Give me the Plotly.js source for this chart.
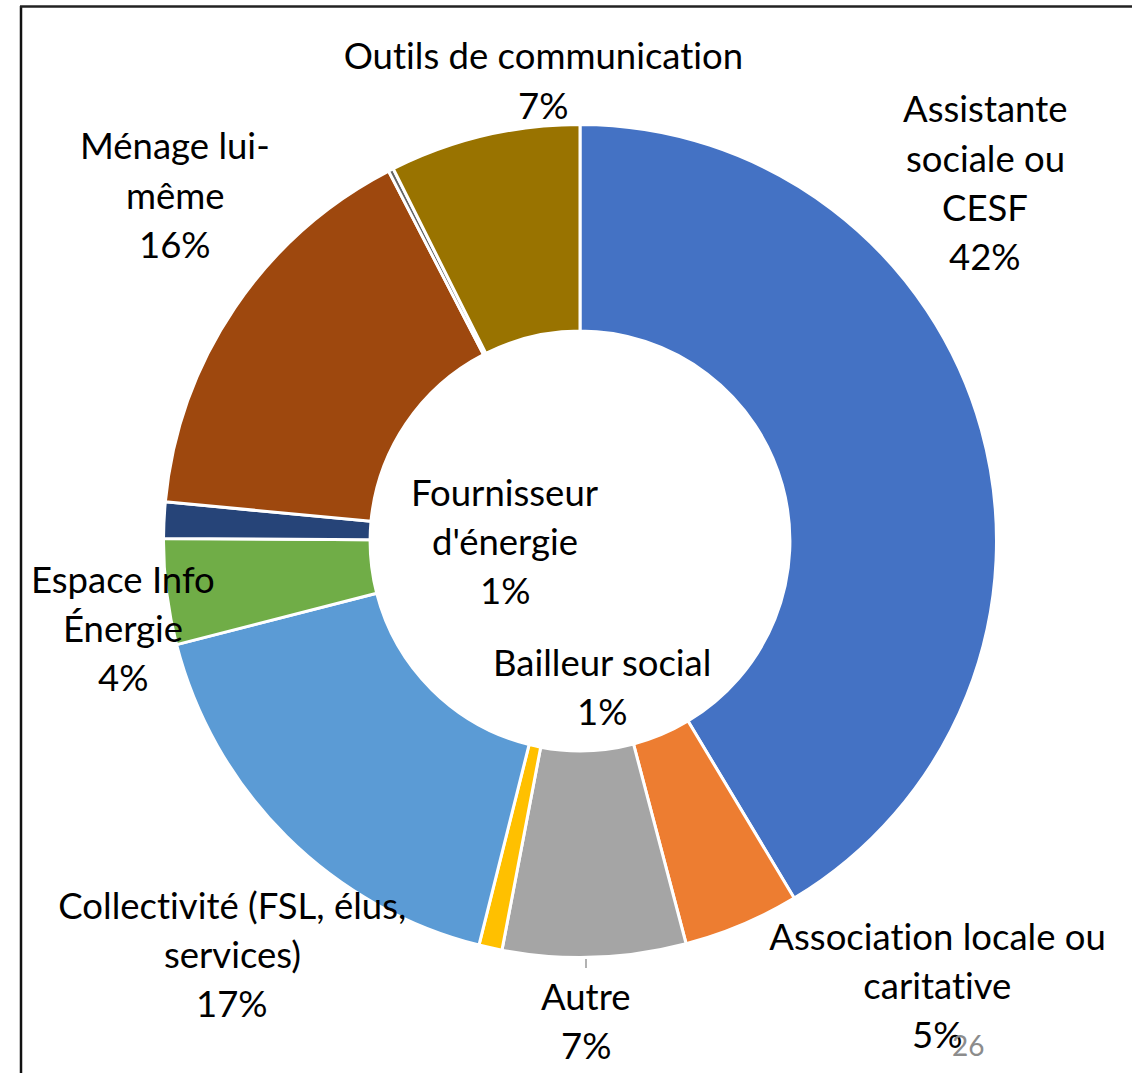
<!DOCTYPE html>
<html>
<head>
<meta charset="utf-8">
<script src="https://cdn.plot.ly/plotly-3.0.1.min.js"></script>
<style>html,body{margin:0;padding:0;background:#fff;}#chart{width:1132px;height:1073px;}
#chart text{font-variant-ligatures:none;font-feature-settings:"liga" 0,"clig" 0;}</style>
</head>
<body>
<div id="chart"></div>
<script>
// ---- Data ----
const categories = [
  "Assistante sociale ou CESF",
  "Association locale ou caritative",
  "Autre",
  "Bailleur social",
  "Collectivité (FSL, élus, services)",
  "Espace Info Énergie",
  "Fournisseur d'énergie",
  "Ménage lui-même",
  "(non renseigné)",
  "Outils de communication"
];
const values = [41.4, 4.5, 7.1, 0.9, 17.1, 4.1, 1.4, 15.9, 0.2, 7.4];
const percentLabels = ["42%", "5%", "7%", "1%", "17%", "4%", "1%", "16%", "", "7%"];
const wrappedNames = [
  "Assistante<br>sociale ou<br>CESF",
  "Association locale ou<br>caritative",
  "Autre",
  "Bailleur social",
  "Collectivité (FSL, élus,<br>services)",
  "Espace Info<br>Énergie",
  "Fournisseur<br>d'énergie",
  "Ménage lui-<br>même",
  "",
  "Outils de communication"
];
const colors = ["#4472C4","#ED7D31","#A5A5A5","#FFC000","#5B9BD5","#70AD47","#264478","#9E480E","#636363","#997300"];

// ---- Layout helpers (positions, not data) ----
const W = 1132, H = 1073;
const labelPos = [ // pixel centre of first line
  [985, 108.5], [937, 935.5], [586, 995.5], [602, 661.5], [232, 904.5],
  [123, 578.5], [505, 491.5], [175, 145.5], null, [543, 55.5]
];
const lineStep = 49.3;
const FONT = "Lato, 'Open Sans', sans-serif";

const annotations = [];
categories.forEach((c, i) => {
  if (!labelPos[i] || !percentLabels[i]) return;
  const lines = wrappedNames[i].split("<br>").concat([percentLabels[i]]);
  lines.forEach((ln, k) => {
    annotations.push({
      xref: "paper", yref: "paper",
      x: labelPos[i][0] / W, y: 1 - (labelPos[i][1] + k * lineStep) / H,
      xanchor: "center", yanchor: "middle",
      text: ln, showarrow: false,
      font: {family: FONT, size: 36.5, color: "#000"}
    });
  });
});
annotations.push({
  xref: "paper", yref: "paper", x: 968 / W, y: 1 - 1045 / H,
  xanchor: "center", yanchor: "middle", text: "26", showarrow: false,
  font: {family: FONT, size: 28, color: "#8C8C8C"}
});

const cx = 580, cy = 541, R = 416.5;
const trace = {
  type: "pie",
  labels: categories,
  values: values,
  sort: false,
  direction: "clockwise",
  rotation: 0,
  hole: 0.504,
  textinfo: "none",
  hoverinfo: "none",
  marker: {colors: colors, line: {color: "#FFFFFF", width: 3}},
  domain: {x: [(cx - R) / W, (cx + R) / W], y: [1 - (cy + R) / H, 1 - (cy - R) / H]},
  showlegend: false
};

const layout = {
  width: W, height: H,
  margin: {l: 0, r: 0, t: 0, b: 0},
  paper_bgcolor: "#FFFFFF",
  showlegend: false,
  annotations: annotations,
  shapes: [
    {type: "line", xref: "paper", yref: "paper", x0: 21 / W, x1: 21 / W, y0: 0, y1: 1 - 6 / H, line: {color: "#111", width: 2.5}},
    {type: "line", xref: "paper", yref: "paper", x0: 20 / W, x1: 1, y0: 1 - 6.5 / H, y1: 1 - 6.5 / H, line: {color: "#222", width: 2.5}},
    {type: "line", xref: "paper", yref: "paper", x0: 586 / W, x1: 586 / W, y0: 1 - 959 / H, y1: 1 - 968 / H, line: {color: "#999", width: 1.5}}
  ]
};

Plotly.newPlot("chart", [trace], layout, {displayModeBar: false, staticPlot: true});
</script>
</body>
</html>
